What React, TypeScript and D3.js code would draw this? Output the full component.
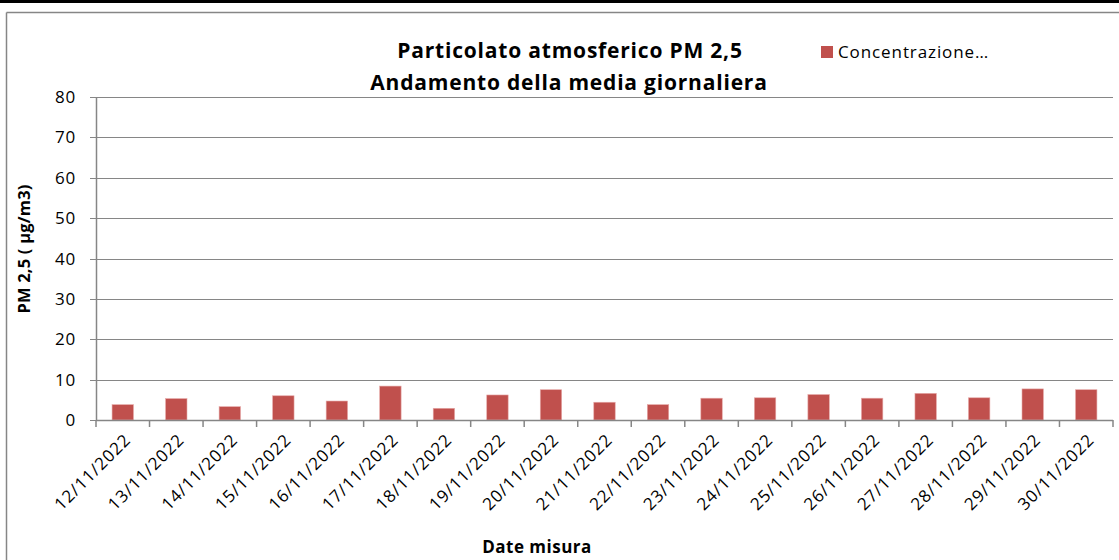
import { useEffect, useRef } from 'react';
import * as d3 from 'd3';

// Data
const dates = [
  '12/11/2022', '13/11/2022', '14/11/2022', '15/11/2022', '16/11/2022',
  '17/11/2022', '18/11/2022', '19/11/2022', '20/11/2022', '21/11/2022',
  '22/11/2022', '23/11/2022', '24/11/2022', '25/11/2022', '26/11/2022',
  '27/11/2022', '28/11/2022', '29/11/2022', '30/11/2022',
];
const values = [
  3.8, 5.3, 3.3, 6.0, 4.7, 8.4, 2.9, 6.2, 7.5, 4.4,
  3.8, 5.4, 5.5, 6.3, 5.4, 6.6, 5.5, 7.7, 7.5,
];
const yTicks = [0, 10, 20, 30, 40, 50, 60, 70, 80];

const titleLines = ['Particolato atmosferico PM 2,5', 'Andamento della media giornaliera'];
const legendLabel = 'Concentrazione…';
const yTitle = 'PM 2,5 ( µg/m3)';
const xTitle = 'Date misura';

const width = 1119;
const height = 560;
const margin = { top: 97, right: 6, bottom: 140, left: 96 };
const FONT = '"Open Sans", Lato, sans-serif';
const BAR_COLOR = '#c0504d';
const GRID_COLOR = '#868686';

export default function App() {
  const svgRef = useRef<SVGSVGElement>(null);

  useEffect(() => {
    if (!svgRef.current) return;
    const svg = d3.select(svgRef.current);
    svg.selectAll('*').remove();

    const innerWidth = width - margin.left - margin.right;
    const innerHeight = height - margin.top - margin.bottom;

    // outer frame
    svg.append('rect').attr('x', 0).attr('y', 0).attr('width', width).attr('height', 3).attr('fill', '#000');
    svg.append('line')
      .attr('x1', 6.5).attr('x2', width).attr('y1', 12.5).attr('y2', 12.5)
      .attr('stroke', GRID_COLOR).attr('stroke-width', 1.5);
    svg.append('line')
      .attr('x1', 6.5).attr('x2', 6.5).attr('y1', 12.5).attr('y2', height)
      .attr('stroke', GRID_COLOR).attr('stroke-width', 1.5);

    const x = d3.scaleBand<string>().domain(dates).range([0, innerWidth]).paddingInner(0.6).paddingOuter(0.3);
    const xTick = d3.scaleBand<string>().domain(dates).range([0, innerWidth]);
    const y = d3.scaleLinear().domain([0, 80]).range([innerHeight, 0]);

    const g = svg.append('g').attr('transform', `translate(${margin.left},${margin.top})`);

    // gridlines
    g.selectAll('.grid')
      .data(yTicks)
      .join('line')
      .attr('x1', -6).attr('x2', innerWidth)
      .attr('y1', (d) => Math.round(y(d)) + 0.5).attr('y2', (d) => Math.round(y(d)) + 0.5)
      .attr('stroke', GRID_COLOR).attr('stroke-width', 1.2);

    // y labels
    g.selectAll('.ylab')
      .data(yTicks)
      .join('text')
      .attr('x', -20).attr('y', (d) => y(d) + 6)
      .attr('text-anchor', 'end')
      .attr('font-family', FONT).attr('font-size', 17).attr('letter-spacing', 0.8).attr('fill', '#000')
      .text((d) => d);

    // bars
    g.selectAll('.bar')
      .data(values)
      .join('rect')
      .attr('x', (_, i) => x(dates[i])!)
      .attr('y', (d) => y(d))
      .attr('width', x.bandwidth())
      .attr('height', (d) => innerHeight - y(d))
      .attr('fill', BAR_COLOR)
      .attr('stroke', '#e6a9a8').attr('stroke-width', 0.6);

    // y axis line
    g.append('line')
      .attr('x1', 0.5).attr('x2', 0.5).attr('y1', 0).attr('y2', innerHeight)
      .attr('stroke', GRID_COLOR).attr('stroke-width', 1.5);

    // x axis line + ticks
    g.append('line')
      .attr('x1', 0).attr('x2', innerWidth).attr('y1', innerHeight + 0.5).attr('y2', innerHeight + 0.5)
      .attr('stroke', GRID_COLOR).attr('stroke-width', 1.5);
    const tickPos = dates.map((d) => xTick(d)!).concat([innerWidth]);
    g.selectAll('.xtick')
      .data(tickPos)
      .join('line')
      .attr('x1', (d) => d).attr('x2', (d) => d)
      .attr('y1', innerHeight).attr('y2', innerHeight + 7)
      .attr('stroke', GRID_COLOR).attr('stroke-width', 1.5);

    // x labels rotated
    g.selectAll('.xlab')
      .data(dates)
      .join('text')
      .attr('transform', (d) => `translate(${xTick(d)! + xTick.bandwidth() / 2 + 9},${innerHeight + 21}) rotate(-45)`)
      .attr('text-anchor', 'end')
      .attr('font-family', FONT).attr('font-size', 17).attr('letter-spacing', 0.9).attr('fill', '#000')
      .text((d) => d);

    // titles
    svg.append('text')
      .attr('x', 570).attr('y', 58)
      .attr('text-anchor', 'middle')
      .attr('font-family', FONT).attr('font-size', 21).attr('letter-spacing', 0.8).attr('font-weight', 'bold')
      .text(titleLines[0]);
    svg.append('text')
      .attr('x', 569).attr('y', 90)
      .attr('text-anchor', 'middle')
      .attr('font-family', FONT).attr('font-size', 21).attr('letter-spacing', 0.8).attr('font-weight', 'bold')
      .text(titleLines[1]);

    // legend
    svg.append('rect').attr('x', 821).attr('y', 46).attr('width', 12).attr('height', 12).attr('fill', BAR_COLOR);
    svg.append('text')
      .attr('x', 838).attr('y', 58)
      .attr('font-family', FONT).attr('font-size', 17).attr('letter-spacing', 0.9)
      .text(legendLabel);

    // axis titles
    svg.append('text')
      .attr('transform', `translate(30,249) rotate(-90)`)
      .attr('text-anchor', 'middle')
      .attr('font-family', FONT).attr('font-size', 16.5).attr('letter-spacing', 0.2).attr('font-weight', 'bold')
      .text(yTitle);
    svg.append('text')
      .attr('x', 537).attr('y', 553)
      .attr('text-anchor', 'middle')
      .attr('font-family', FONT).attr('font-size', 17).attr('letter-spacing', 0.5).attr('font-weight', 'bold')
      .text(xTitle);
  }, []);

  return (
    <div style={{ position: 'absolute', left: 0, top: 0 }}>
      <svg ref={svgRef} width={width} height={height} style={{ display: 'block', background: '#fff' }} />
    </div>
  );
}
